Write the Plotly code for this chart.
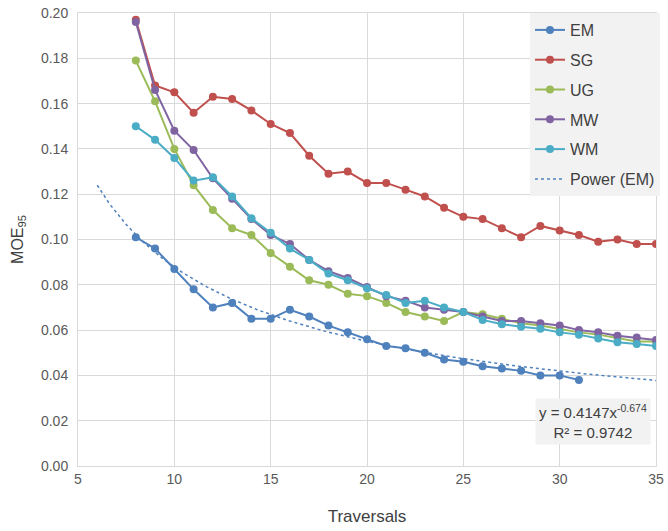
import numpy as np
import plotly.graph_objects as go

# ---- data ----
x_em = list(range(8, 32))
em = [0.101, 0.096, 0.087, 0.078, 0.070, 0.072, 0.065, 0.065, 0.069, 0.066, 0.062, 0.059,
      0.056, 0.053, 0.052, 0.050, 0.047, 0.046, 0.044, 0.043, 0.042, 0.040, 0.040, 0.038]

x_all = list(range(8, 36))
sg = [0.197, 0.168, 0.165, 0.156, 0.163, 0.162, 0.157, 0.151, 0.147, 0.137, 0.129, 0.130,
      0.125, 0.125, 0.122, 0.119, 0.114, 0.110, 0.109, 0.105, 0.101, 0.106, 0.104, 0.102,
      0.099, 0.100, 0.098, 0.098]
ug = [0.179, 0.161, 0.140, 0.124, 0.113, 0.105, 0.102, 0.094, 0.088, 0.082, 0.080, 0.076,
      0.075, 0.072, 0.068, 0.066, 0.064, 0.068, 0.067, 0.065, 0.063, 0.062, 0.0605, 0.059,
      0.058, 0.0565, 0.055, 0.055]
mw = [0.196, 0.166, 0.148, 0.1395, 0.127, 0.118, 0.109, 0.102, 0.098, 0.091, 0.086, 0.083,
      0.079, 0.075, 0.073, 0.070, 0.069, 0.068, 0.066, 0.064, 0.064, 0.063, 0.062, 0.060,
      0.059, 0.0575, 0.0567, 0.0556]
wm = [0.150, 0.144, 0.136, 0.126, 0.1275, 0.119, 0.1094, 0.103, 0.096, 0.091, 0.085, 0.082,
      0.0785, 0.0755, 0.072, 0.073, 0.070, 0.068, 0.0645, 0.0626, 0.0615, 0.0606, 0.059, 0.058,
      0.0563, 0.0546, 0.0539, 0.053]

# power trendline for EM (from the chart's equation)
trend_a = 0.4147
trend_b = -0.674
trend_r2 = 0.9742
trend_x0, trend_x1 = 6, 35

series = [
    ("EM", x_em, em, "#4F81BD"),
    ("SG", x_all, sg, "#C0504D"),
    ("UG", x_all, ug, "#9BBB59"),
    ("MW", x_all, mw, "#8064A2"),
    ("WM", x_all, wm, "#4BACC6"),
]

FONT = "Liberation Sans, Arial, sans-serif"
fig = go.Figure()
for i, (name, xs, ys, col) in enumerate(series):
    fig.add_trace(go.Scatter(
        x=xs, y=ys, name=name, mode="lines+markers",
        line=dict(color=col, width=2),
        marker=dict(color=col, size=8, symbol="circle"),
        legendgroup=f"g{i}",
    ))

tx = np.linspace(trend_x0, trend_x1, 200)
ty = trend_a * tx ** trend_b
fig.add_trace(go.Scatter(
    x=tx, y=ty, name="Power (EM)", mode="lines",
    line=dict(color="#4F81BD", width=1.5, dash="dot"),
    legendgroup="g5",
))

fig.add_annotation(
    xref="paper", yref="paper", x=0.9915, y=0.098, xanchor="right", yanchor="middle",
    text=f"y = {trend_a}x<sup>{trend_b}</sup><br>R² = {trend_r2}",
    showarrow=False, align="center", bgcolor="#F2F2F2", borderpad=3,
    font=dict(family=FONT, size=15, color="#404040"),
)

fig.update_layout(
    width=668, height=531,
    margin=dict(l=78, r=8, t=13, b=65),
    paper_bgcolor="white", plot_bgcolor="white",
    font=dict(family=FONT, size=14, color="#595959"),
    showlegend=True,
    legend=dict(
        x=0.782, y=1.0, xanchor="left", yanchor="top",
        bgcolor="#F2F2F2", font=dict(family=FONT, size=16, color="#404040"),
        traceorder="grouped", tracegroupgap=6, itemwidth=30,
    ),
    xaxis=dict(
        range=[5, 35], tickvals=[5, 10, 15, 20, 25, 30, 35],
        showgrid=True, gridcolor="#D9D9D9", gridwidth=1,
        showline=True, linecolor="#D9D9D9", mirror=True,
        zeroline=False, ticks="", automargin=False,
        tickfont=dict(family=FONT, size=14, color="#595959"),
        title=dict(text="Traversals", font=dict(family=FONT, size=17, color="#404040"), standoff=24),
    ),
    yaxis=dict(
        range=[0, 0.2], tickvals=[0, 0.02, 0.04, 0.06, 0.08, 0.10, 0.12, 0.14, 0.16, 0.18, 0.20],
        tickformat=".2f",
        showgrid=True, gridcolor="#D9D9D9", gridwidth=1,
        showline=True, linecolor="#D9D9D9", mirror=True,
        zeroline=False, ticks="", ticklabelstandoff=6, automargin=False,
        tickfont=dict(family=FONT, size=14, color="#595959"),
        title=dict(text="MOE<sub>95</sub>", font=dict(family=FONT, size=16, color="#404040"), standoff=13),
    ),
)

fig.write_html("out.html")
